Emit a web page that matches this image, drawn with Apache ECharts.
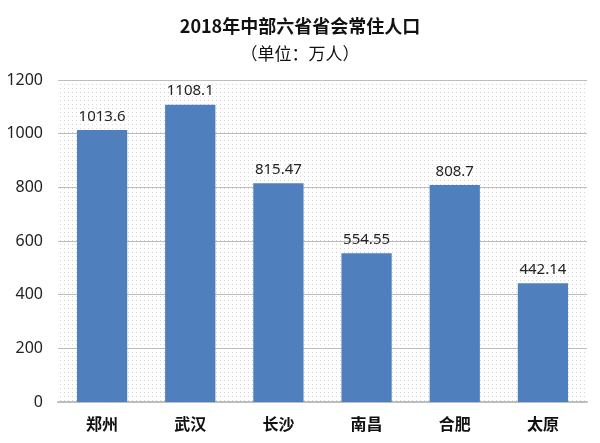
<!DOCTYPE html>
<html><head><meta charset="utf-8">
<script src="https://cdn.jsdelivr.net/npm/echarts@6/dist/echarts.min.js"></script>
<style>html,body{margin:0;padding:0;background:#fff}#c{width:600px;height:443px}</style>
</head><body><div id="c"></div>
<script>
const categories = ['郑州','武汉','长沙','南昌','合肥','太原'];
const values = [1013.6, 1108.1, 815.47, 554.55, 808.7, 442.14];
const valueLabels = ['1013.6','1108.1','815.47','554.55','808.7','442.14'];
const titleText = '2018年中部六省省会常住人口';
const subText = '（单位：万人）';

const pc = document.createElement('canvas');
pc.width = 4; pc.height = 4;
const px = pc.getContext('2d');
px.fillStyle = '#fff'; px.fillRect(0,0,4,4);
px.fillStyle = '#d4d4d4'; px.fillRect(0,0,1,1);

const chart = echarts.init(document.getElementById('c'));
chart.setOption({
  backgroundColor: '#fff',
  title: {
    text: titleText, subtext: subText, left: 'center', top: 12, itemGap: 10,
    textStyle: {fontFamily: 'Noto Sans CJK SC', fontSize: 18, fontWeight: 'bold', color: '#111'},
    subtextStyle: {fontFamily: 'Noto Sans CJK SC', fontSize: 17, color: '#111'}
  },
  grid: {left: 58, right: 13, top: 80, bottom: 41, show: true, borderWidth: 0,
    backgroundColor: {image: pc, repeat: 'repeat'}},
  xAxis: {
    type: 'category', data: categories,
    axisLine: {lineStyle: {color: '#bdbdbd', width: 2}},
    axisTick: {show: false},
    axisLabel: {fontFamily: 'Noto Sans CJK SC', fontSize: 16, fontWeight: 'bold', color: '#111', margin: 14}
  },
  yAxis: {
    type: 'value', min: 0, max: 1200, interval: 200,
    axisLine: {show: false}, axisTick: {show: false},
    splitLine: {lineStyle: {color: '#bdbdbd', width: 1}},
    axisLabel: {fontFamily: 'Noto Sans', fontSize: 16, color: '#222', margin: 15, formatter: v => String(v)}
  },
  series: [{
    type: 'bar', data: values, barWidth: '57%',
    itemStyle: {color: '#4f7fbd'},
    label: {show: true, position: 'top', distance: 6, fontFamily: 'Noto Sans', fontSize: 15, color: '#222',
      formatter: p => valueLabels[p.dataIndex]}
  }]
});
</script></body></html>
